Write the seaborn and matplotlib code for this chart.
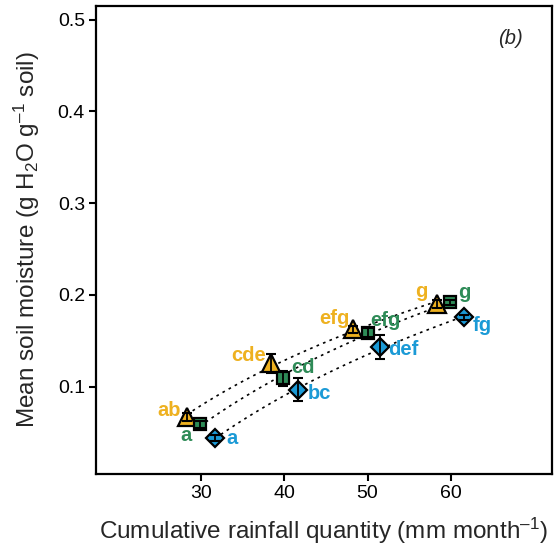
import numpy as np
import pandas as pd
import matplotlib
matplotlib.use("Agg")
import matplotlib.pyplot as plt
import seaborn as sns

# ── Data ─────────────────────────────────────────────────────────────────────
rain_tri = [28.3, 38.4, 48.3, 58.3]
moist_tri = [0.067, 0.1255, 0.1625, 0.190]
err_tri = [0.004, 0.010, 0.004, 0.004]
lab_tri = ["ab", "cde", "efg", "g"]

rain_sq = [29.9, 39.9, 50.0, 59.9]
moist_sq = [0.059, 0.109, 0.159, 0.192]
err_sq = [0.004, 0.008, 0.005, 0.003]
lab_sq = ["a", "cd", "efg", "g"]

rain_dia = [31.7, 41.7, 51.5, 61.6]
moist_dia = [0.044, 0.097, 0.1436, 0.1756]
err_dia = [0.003, 0.012, 0.013, 0.003]
lab_dia = ["a", "bc", "def", "fg"]

x_ticks = [30, 40, 50, 60]
y_ticks = [0.1, 0.2, 0.3, 0.4, 0.5]

# ── Style ────────────────────────────────────────────────────────────────────
sns.set_style("ticks")
plt.rcParams.update({
    "font.family": ["Liberation Sans", "DejaVu Sans"],
    "mathtext.fontset": "custom",
    "mathtext.rm": "Liberation Sans",
    "mathtext.it": "Liberation Sans:italic",
    "axes.linewidth": 1.6,
    "xtick.major.width": 1.5, "ytick.major.width": 1.5,
    "xtick.major.size": 5, "ytick.major.size": 5,
    "xtick.color": "black", "ytick.color": "black",
    "axes.edgecolor": "black",
})

fig = plt.figure(figsize=(5.54, 5.47), dpi=100)
ax = fig.add_axes([0.1733, 0.1335, 0.8225, 0.856])

series = [
    (rain_tri, moist_tri, err_tri, lab_tri, "^", 12.5, "#EEB120"),
    (rain_sq, moist_sq, err_sq, lab_sq, "s", 8.5, "#2E8B57"),
    (rain_dia, moist_dia, err_dia, lab_dia, "D", 9, "#1B9AD6"),
]

# dotted log-fit lines
for xs, ys, _, _, _, _, _ in series:
    d = pd.DataFrame({"x": xs, "y": ys})
    sns.regplot(data=d, x="x", y="y", ax=ax, scatter=False, logx=True,
                ci=None, color="black",
                line_kws={"linestyle": (0, (1.6, 2.6)), "linewidth": 1.2,
                          "zorder": 1})

for xs, ys, es, _, m, ms, c in series:
    ax.plot(xs, ys, linestyle="none", marker=m, markersize=ms,
            markerfacecolor=c, markeredgecolor="black", markeredgewidth=1.6,
            zorder=3)
    ax.errorbar(xs, ys, yerr=es, fmt="none", ecolor="black", elinewidth=1.3,
                capsize=3.5, capthick=1.5, zorder=4)

# significance letters
off_tri = [(-13, 5), (-16, 6), (-14, 8), (-11, 9)]
off_sq = [(-10, -8), (14, 8), (13, 9), (10, 7)]
off_dia = [(12, 0), (15, -3), (17, -2), (13, -6)]
for (xs, ys, _, labs, _, _, c), offs in zip(series, [off_tri, off_sq, off_dia]):
    for x, y, lab, off in zip(xs, ys, labs, offs):
        ax.annotate(lab, (x, y), xytext=off, textcoords="offset points",
                    ha="center", va="center", color=c, fontsize=14.5,
                    fontweight="bold")

ax.text(0.91, 0.93, "(b)", transform=ax.transAxes, fontsize=14.5,
        style="italic", ha="center", va="center")

ax.set_xlim(17.4, 72.1)
ax.set_ylim(0.005, 0.515)
ax.set_xticks(x_ticks)
ax.set_yticks(y_ticks)
ax.set_xticklabels([str(t) for t in x_ticks])
ax.set_yticklabels([f"{t:.1f}" for t in y_ticks])
ax.tick_params(labelsize=14, pad=3)
for s in ax.spines.values():
    s.set_visible(True)

ax.set_xlabel("Cumulative rainfall quantity (mm month$^{\u2013 1}$)",
              fontsize=17.5, labelpad=10)
ax.set_ylabel("Mean soil moisture (g H$_2$O g$^{\u2013 1}$ soil)",
              fontsize=17.5, labelpad=11)

fig.savefig("out.png", dpi=100)
